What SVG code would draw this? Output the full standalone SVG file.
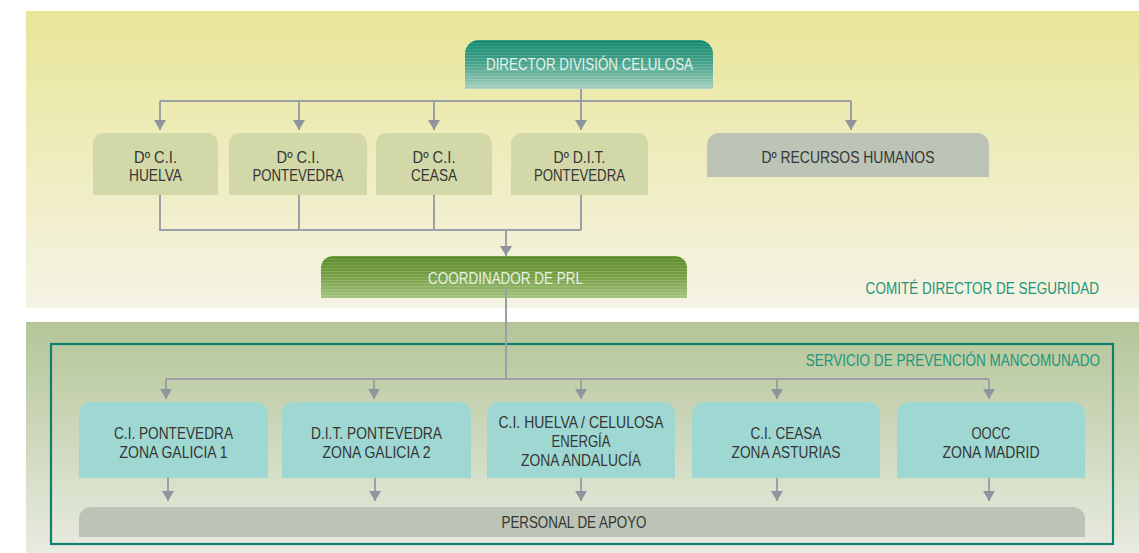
<svg xmlns="http://www.w3.org/2000/svg" width="1139" height="553" viewBox="0 0 1139 553">
<defs>
<linearGradient id="gTop" x1="0" y1="0" x2="0" y2="1"><stop offset="0" stop-color="#e8e698"/><stop offset="1" stop-color="#f5f3e4"/></linearGradient>
<linearGradient id="gBot" x1="0" y1="0" x2="0" y2="1"><stop offset="0" stop-color="#b4c598"/><stop offset="1" stop-color="#e8ebe0"/></linearGradient>
<linearGradient id="gDir" x1="0" y1="0" x2="0" y2="1"><stop offset="0" stop-color="#108a6e"/><stop offset="0.5" stop-color="#4aa48c"/><stop offset="1" stop-color="#a6d0c0"/></linearGradient>
<linearGradient id="gCoord" x1="0" y1="0" x2="0" y2="1"><stop offset="0" stop-color="#5c8c2a"/><stop offset="0.5" stop-color="#78a046"/><stop offset="1" stop-color="#a4c480"/></linearGradient>
<pattern id="stripes" width="8" height="3" patternUnits="userSpaceOnUse"><rect x="0" y="1" width="8" height="0.8" fill="#ffffff" fill-opacity="0.18"/></pattern>
<marker id="arr" markerUnits="userSpaceOnUse" markerWidth="10" markerHeight="12" refX="10" refY="6" orient="auto"><path d="M0,0 L10,6 L0,12 Z" fill="#8f959c"/></marker>
</defs>
<style>
.t{font-family:"Liberation Sans",Arial,sans-serif;font-size:16.5px;fill:#353535;text-anchor:middle}
.w{fill:#e6f2ea}
.lbl{font-family:"Liberation Sans",Arial,sans-serif;font-size:16.5px;fill:#23957c;text-anchor:end}
.c{fill:none;stroke:#9aa0a6;stroke-width:2}
.a{fill:none;stroke:#9aa0a6;stroke-width:2;marker-end:url(#arr)}
.l2{fill:#d3d8a8}
.bx{fill:#9fd8d2}
.gr{fill:#bbc4b6}
</style>
<rect x="26" y="11" width="1113" height="297" fill="url(#gTop)"/>
<rect x="26" y="322" width="1113" height="231" fill="url(#gBot)"/>
<rect id="frame" x="51" y="344" width="1062" height="200" fill="none" stroke="#0f8070" stroke-width="2.2"/>
<text class="lbl" transform="translate(1099,294) scale(0.82,1)" x="0" y="0">COMITÉ DIRECTOR DE SEGURIDAD</text>
<text class="lbl" transform="translate(1100,366) scale(0.82,1)" x="0" y="0">SERVICIO DE PREVENCIÓN MANCOMUNADO</text>

<g id="director">
<path d="M465,89 V54 A14,14 0 0 1 479,40 H699 A14,14 0 0 1 713,54 V89 Z" fill="url(#gDir)"/>
<path d="M465,89 V54 A14,14 0 0 1 479,40 H699 A14,14 0 0 1 713,54 V89 Z" fill="url(#stripes)"/>
<text class="t w" x="589.5" y="70" textLength="207" lengthAdjust="spacingAndGlyphs">DIRECTOR DIVISIÓN CELULOSA</text>
</g>

<g id="ci-huelva">
<path d="M93,195 V144 A11,11 0 0 1 104,133 H207 A11,11 0 0 1 218,144 V195 Z" class="l2"/>
<text class="t" x="155.5" y="163" textLength="43" lengthAdjust="spacingAndGlyphs">Dº C.I.</text>
<text class="t" x="155.5" y="181" textLength="53" lengthAdjust="spacingAndGlyphs">HUELVA</text>
</g>
<g id="ci-pontevedra">
<path d="M229,195 V144 A11,11 0 0 1 240,133 H356 A11,11 0 0 1 367,144 V195 Z" class="l2"/>
<text class="t" x="298" y="163" textLength="43" lengthAdjust="spacingAndGlyphs">Dº C.I.</text>
<text class="t" x="298" y="181" textLength="91" lengthAdjust="spacingAndGlyphs">PONTEVEDRA</text>
</g>
<g id="ci-ceasa">
<path d="M376,195 V144 A11,11 0 0 1 387,133 H481 A11,11 0 0 1 492,144 V195 Z" class="l2"/>
<text class="t" x="434" y="163" textLength="43" lengthAdjust="spacingAndGlyphs">Dº C.I.</text>
<text class="t" x="434" y="181" textLength="46" lengthAdjust="spacingAndGlyphs">CEASA</text>
</g>
<g id="dit-pontevedra">
<path d="M511,195 V144 A11,11 0 0 1 522,133 H637 A11,11 0 0 1 648,144 V195 Z" class="l2"/>
<text class="t" x="579.5" y="163" textLength="52" lengthAdjust="spacingAndGlyphs">Dº D.I.T.</text>
<text class="t" x="579.5" y="181" textLength="91" lengthAdjust="spacingAndGlyphs">PONTEVEDRA</text>
</g>
<g id="rrhh">
<path d="M707,177 V145 A12,12 0 0 1 719,133 H977 A12,12 0 0 1 989,145 V177 Z" class="gr"/>
<text class="t" x="848" y="163" textLength="173" lengthAdjust="spacingAndGlyphs">Dº RECURSOS HUMANOS</text>
</g>

<g id="coordinador">
<path d="M321,298 V268 A12,12 0 0 1 333,256 H675 A12,12 0 0 1 687,268 V298 Z" fill="url(#gCoord)"/>
<path d="M321,298 V268 A12,12 0 0 1 333,256 H675 A12,12 0 0 1 687,268 V298 Z" fill="url(#stripes)"/>
<text class="t w" x="505.5" y="284" textLength="155" lengthAdjust="spacingAndGlyphs">COORDINADOR DE PRL</text>
</g>

<g id="zona-galicia-1">
<path d="M79,478 V414 A12,12 0 0 1 91,402 H256 A12,12 0 0 1 268,414 V478 Z" class="bx"/>
<text class="t" x="173.5" y="439" textLength="119" lengthAdjust="spacingAndGlyphs">C.I. PONTEVEDRA</text>
<text class="t" x="173.5" y="458" textLength="108" lengthAdjust="spacingAndGlyphs">ZONA GALICIA 1</text>
</g>
<g id="zona-galicia-2">
<path d="M282,478 V414 A12,12 0 0 1 294,402 H459 A12,12 0 0 1 471,414 V478 Z" class="bx"/>
<text class="t" x="376.5" y="439" textLength="131" lengthAdjust="spacingAndGlyphs">D.I.T. PONTEVEDRA</text>
<text class="t" x="376.5" y="458" textLength="108" lengthAdjust="spacingAndGlyphs">ZONA GALICIA 2</text>
</g>
<g id="zona-andalucia">
<path d="M487,478 V414 A12,12 0 0 1 499,402 H663 A12,12 0 0 1 675,414 V478 Z" class="bx"/>
<text class="t" x="581" y="428" textLength="165" lengthAdjust="spacingAndGlyphs">C.I. HUELVA / CELULOSA</text>
<text class="t" x="581" y="447" textLength="59" lengthAdjust="spacingAndGlyphs">ENERGÍA</text>
<text class="t" x="581" y="466" textLength="120" lengthAdjust="spacingAndGlyphs">ZONA ANDALUCÍA</text>
</g>
<g id="zona-asturias">
<path d="M692,478 V414 A12,12 0 0 1 704,402 H868 A12,12 0 0 1 880,414 V478 Z" class="bx"/>
<text class="t" x="786" y="439" textLength="71" lengthAdjust="spacingAndGlyphs">C.I. CEASA</text>
<text class="t" x="786" y="458" textLength="109" lengthAdjust="spacingAndGlyphs">ZONA ASTURIAS</text>
</g>
<g id="zona-madrid">
<path d="M897,478 V414 A12,12 0 0 1 909,402 H1073 A12,12 0 0 1 1085,414 V478 Z" class="bx"/>
<text class="t" x="991" y="439" textLength="39" lengthAdjust="spacingAndGlyphs">OOCC</text>
<text class="t" x="991" y="458" textLength="97" lengthAdjust="spacingAndGlyphs">ZONA MADRID</text>
</g>
<g id="personal-apoyo">
<path d="M79,537 V519 A12,12 0 0 1 91,507 H1073 A12,12 0 0 1 1085,519 V537 Z" class="gr"/>
<text class="t" x="574" y="528" textLength="145" lengthAdjust="spacingAndGlyphs">PERSONAL DE APOYO</text>
</g>

<g id="connectors">
<path class="c" d="M581,89 V101 M160,101 H851"/>
<path class="a" d="M160,101 V130"/>
<path class="a" d="M299,101 V130"/>
<path class="a" d="M434,101 V130"/>
<path class="a" d="M581,101 V130"/>
<path class="a" d="M851,101 V130"/>
<path class="c" d="M160,195 V230 H581 M299,195 V230 M434,195 V230 M581,195 V230"/>
<path class="a" d="M506,230 V256"/>
<path class="c" d="M506,287 V379 M166,379 H989"/>
<path class="a" d="M166,379 V399"/>
<path class="a" d="M374,379 V399"/>
<path class="a" d="M581,379 V399"/>
<path class="a" d="M777,379 V399"/>
<path class="a" d="M989,379 V399"/>
<path class="a" d="M168,478 V501"/>
<path class="a" d="M375,478 V501"/>
<path class="a" d="M581,478 V501"/>
<path class="a" d="M777,478 V501"/>
<path class="a" d="M989,478 V501"/>
</g>
</svg>
